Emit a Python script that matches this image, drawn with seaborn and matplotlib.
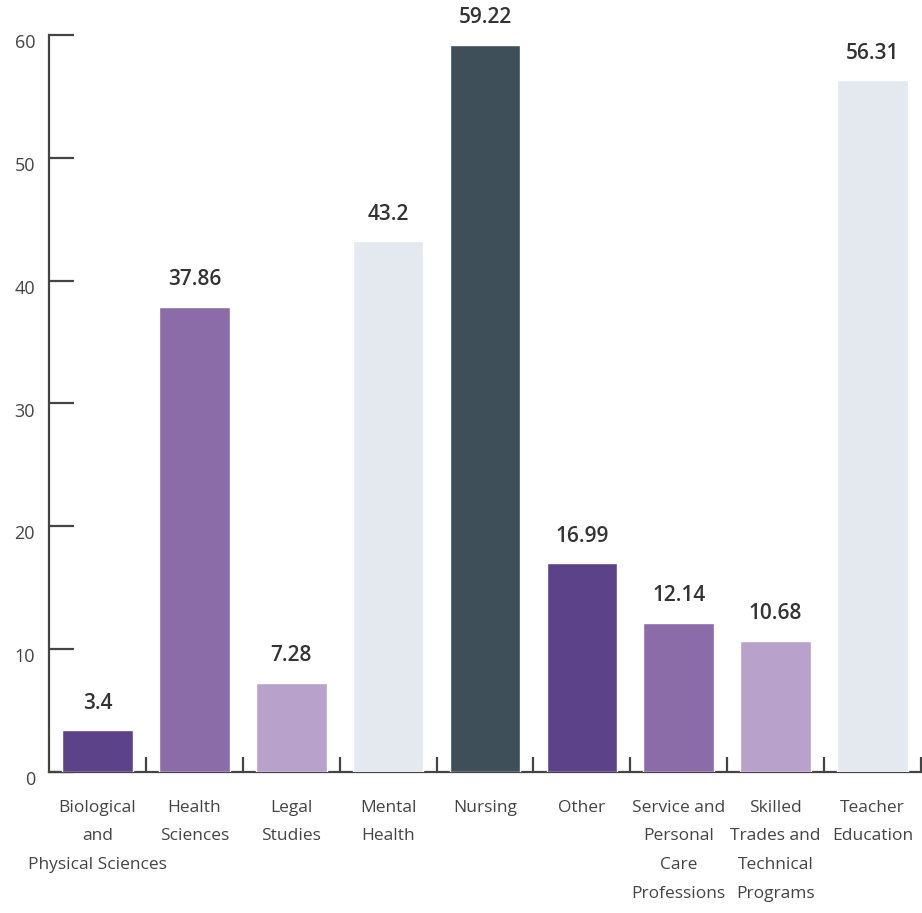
import matplotlib
matplotlib.use("Agg")
import matplotlib.pyplot as plt
import matplotlib.transforms as mtransforms
import seaborn as sns

categories = [
    "Biological\nand\nPhysical Sciences",
    "Health\nSciences",
    "Legal\nStudies",
    "Mental\nHealth",
    "Nursing",
    "Other",
    "Service and\nPersonal\nCare\nProfessions",
    "Skilled\nTrades and\nTechnical\nPrograms",
    "Teacher\nEducation",
]
values = [3.4, 37.86, 7.28, 43.2, 59.22, 16.99, 12.14, 10.68, 56.31]
value_labels = ["3.4", "37.86", "7.28", "43.2", "59.22", "16.99", "12.14", "10.68", "56.31"]
bar_colors = ["#5b4289", "#8b6ca8", "#b8a2cc", "#e4e8ef", "#3e4f5a",
              "#5b4289", "#8b6ca8", "#b8a2cc", "#e4e8ef"]
y_ticks = [0, 10, 20, 30, 40, 50, 60]

sns.set_theme(style="white")
plt.rcParams["font.family"] = ["Open Sans", "DejaVu Sans"]

fig = plt.figure(figsize=(9.22, 9.13), dpi=100)
ax = fig.add_axes([49 / 922, 141 / 913, 872 / 922, 737 / 913])

sns.barplot(x=categories, y=values, hue=categories, palette=bar_colors,
            legend=False, width=0.73, saturation=1, ax=ax, zorder=3)

ax.set_xlim(-0.5, 8.5)
ax.set_ylim(0, 60)
ax.set_xlabel("")
ax.set_ylabel("")

for s in ["top", "right"]:
    ax.spines[s].set_visible(False)
for s in ["left", "bottom"]:
    ax.spines[s].set_color("#444444")
    ax.spines[s].set_linewidth(1.6)
    ax.spines[s].set_zorder(2)

# y axis: inward ticks, labels sitting slightly below each tick
ax.set_yticks(y_ticks)
ax.set_yticklabels([str(t) for t in y_ticks])
ax.tick_params(axis="y", direction="in", length=18, width=1.6, color="#444444",
               pad=10, labelsize=13, labelcolor="#444444", left=True)
offset = mtransforms.ScaledTranslation(0, -6 / 100, fig.dpi_scale_trans)
for lbl in ax.get_yticklabels():
    lbl.set_transform(lbl.get_transform() + offset)

# x axis: category labels at centers, separator ticks between bars
ax.set_xticks(range(len(categories)))
ax.set_xticklabels(categories, fontsize=12.5, color="#444444", linespacing=2.05)
ax.tick_params(axis="x", which="major", length=0, pad=20)
ax.set_xticks([i + 0.5 for i in range(len(categories))], minor=True)
ax.tick_params(axis="x", which="minor", direction="in", length=11, width=1.6,
               color="#444444", bottom=True)

for i, (v, t) in enumerate(zip(values, value_labels)):
    ax.text(i, v + 1.35, t, ha="center", va="bottom", fontsize=15,
            fontweight="semibold", color="#333333", clip_on=False)

fig.savefig("out.png", dpi=100)
